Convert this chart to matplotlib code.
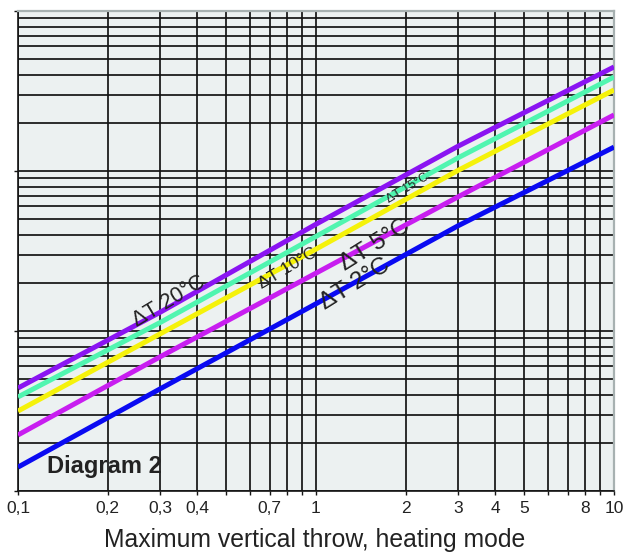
import matplotlib
matplotlib.use("Agg")
import matplotlib.pyplot as plt
from matplotlib.ticker import FixedLocator, NullFormatter, LogLocator
import numpy as np

# ---- data ----
x_points = [0.1, 0.3, 1.0, 3.0, 10.0]
dt20 = [4.40, 13.1, 46.5, 143.0, 447.0]
dt15 = [3.87, 11.3, 39.0, 121.0, 387.0]
dt10 = [3.16, 9.60, 32.5, 101.0, 321.0]
dt5 = [2.24, 6.90, 23.0, 69.0, 224.0]
dt2 = [1.41, 4.35, 14.8, 45.5, 141.0]

series_names = ["ΔT 20°C", "ΔT 15°C", "ΔT 10°C", "ΔT 5°C", "ΔT 2°C"]
series_values = [dt20, dt15, dt10, dt5, dt2]
series_colors = ["#8A14F2", "#50F5B0", "#F5F20A", "#C81EF0", "#0A0AF2"]

xtick_values = [0.1, 0.2, 0.3, 0.4, 0.7, 1, 2, 3, 4, 5, 8, 10]
xtick_labels = ["0,1", "0,2", "0,3", "0,4", "0,7", "1", "2", "3", "4", "5", "8", "10"]
xlabel = "Maximum vertical throw, heating mode"
diagram_label = "Diagram 2"

W, H = 634, 552
fig = plt.figure(figsize=(W / 100, H / 100), dpi=100)
fig.patch.set_facecolor("white")
ax = fig.add_axes([18 / W, 1 - 491 / H, (614 - 18) / W, (491 - 11) / H])
ax.set_facecolor("#ECF1F1")
ax.set_xscale("log")
ax.set_yscale("log")
ax.set_xlim(0.1, 10)
ax.set_ylim(1, 1000)

ax.grid(True, which="both", color="#141414", linewidth=1.25, zorder=1)
ax.set_axisbelow(True)

for vals, col in zip(series_values, series_colors):
    ax.plot(x_points, vals, color=col, linewidth=3.6, solid_capstyle="butt",
            solid_joinstyle="round", zorder=3)

# x ticks
ax.xaxis.set_major_locator(FixedLocator(xtick_values))
ax.set_xticklabels(xtick_labels)
ax.xaxis.set_minor_locator(LogLocator(base=10, subs=np.arange(2, 10)))
ax.xaxis.set_minor_formatter(NullFormatter())
ax.tick_params(axis="x", which="both", direction="out", length=3, width=1, color="#141414", pad=4)
for lab in ax.get_xticklabels():
    lab.set_family(["Liberation Sans Narrow", "Liberation Sans", "DejaVu Sans"])
    lab.set_fontsize(12.5)
    lab.set_color("#222222")

# y ticks: majors only, no labels
ax.yaxis.set_major_locator(LogLocator(base=10, numticks=10))
ax.yaxis.set_minor_locator(LogLocator(base=10, subs=np.arange(2, 10), numticks=20))
ax.yaxis.set_major_formatter(NullFormatter())
ax.yaxis.set_minor_formatter(NullFormatter())
ax.tick_params(axis="y", which="major", direction="out", length=3, width=1, color="#141414")
ax.tick_params(axis="y", which="minor", length=0)

for side in ["left", "bottom"]:
    ax.spines[side].set_color("#141414")
    ax.spines[side].set_linewidth(1.2)
for side in ["top", "right"]:
    ax.spines[side].set_color("#A7B1B1")
    ax.spines[side].set_linewidth(1.6)

fam = ["Liberation Sans", "DejaVu Sans"]

# series labels (pixel centres converted to figure fraction)
label_specs = [
    ("ΔT 20°C", 169, 301, 15.5, 31),
    ("ΔT 15°C", 408, 188, 9.0, 31),
    ("ΔT 10°C", 288, 268, 12.5, 31),
    ("ΔT 5°C", 375, 245, 17.5, 32),
    ("ΔT 2°C", 355, 284, 17.5, 32),
]
for txt, px, py, fs, rot in label_specs:
    fig.text(px / W, 1 - py / H, txt, fontsize=fs, rotation=rot, ha="center", va="center",
             color="#222222", family=fam, rotation_mode="anchor", zorder=5)

fig.text(47 / W, 1 - 467 / H, diagram_label, fontsize=17, fontweight="bold",
         ha="left", va="center", color="#222222", family=fam)

fig.text(315 / W, 1 - 540 / H, xlabel, fontsize=17.8, ha="center", va="center",
         color="#222222", family=fam)

fig.savefig("out.png", dpi=100)
